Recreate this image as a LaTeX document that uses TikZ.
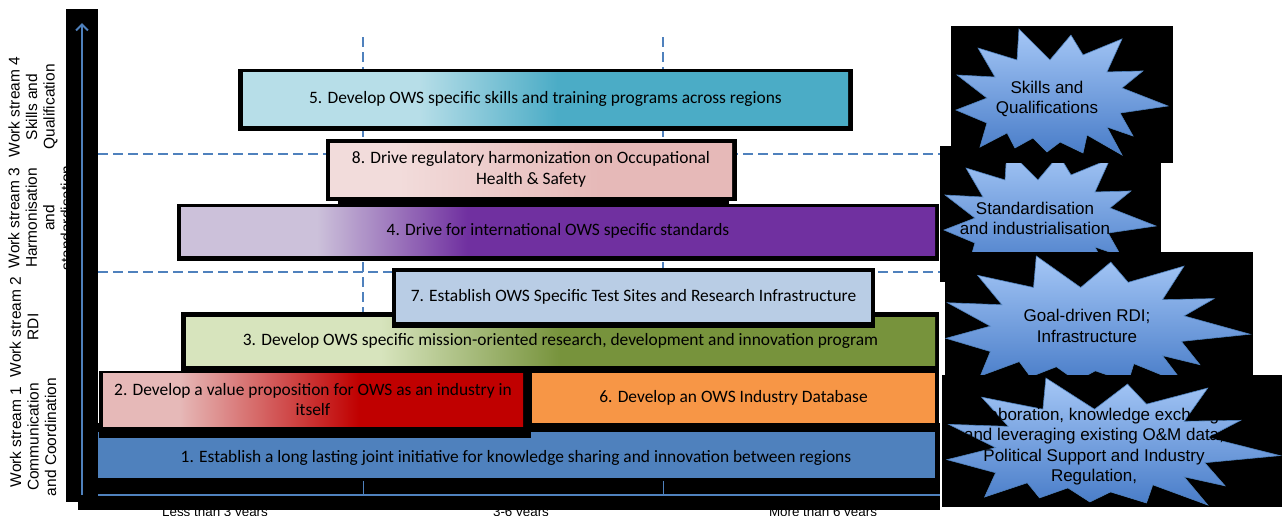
\documentclass[tikz,border=0pt]{standalone}
\usepackage{fontspec}
\setmainfont{Carlito}
\newfontfamily\arialfont{Liberation Sans}
\usetikzlibrary{arrows.meta}

\definecolor{axisblue}{RGB}{79,129,189}
\definecolor{tealA}{RGB}{183,222,232}
\definecolor{tealB}{RGB}{75,172,198}
\definecolor{pinkA}{RGB}{242,220,219}
\definecolor{pinkB}{RGB}{230,185,184}
\definecolor{lilacA}{RGB}{204,193,218}
\definecolor{lilacB}{RGB}{112,48,160}
\definecolor{oliveA}{RGB}{215,228,189}
\definecolor{oliveB}{RGB}{119,147,60}
\definecolor{redB}{RGB}{192,0,0}
\definecolor{testblue}{RGB}{185,205,229}
\definecolor{dataorange}{RGB}{247,150,70}
\definecolor{burstA}{RGB}{165,199,246}
\definecolor{burstB}{RGB}{72,124,200}

\pgfdeclarehorizontalshading{skillsfade}{100bp}{color(0bp)=(tealA); color(39.5bp)=(tealA); color(51bp)=(tealB); color(100bp)=(tealB)}
\pgfdeclarehorizontalshading{safetyfade}{100bp}{color(0bp)=(pinkA); color(33.5bp)=(pinkA); color(58.5bp)=(pinkB); color(100bp)=(pinkB)}
\pgfdeclarehorizontalshading{standardsfade}{100bp}{color(0bp)=(lilacA); color(34bp)=(lilacA); color(44bp)=(lilacB); color(100bp)=(lilacB)}
\pgfdeclarehorizontalshading{researchfade}{100bp}{color(0bp)=(oliveA); color(38bp)=(oliveA); color(50bp)=(oliveB); color(100bp)=(oliveB)}
\pgfdeclarehorizontalshading{valuefade}{100bp}{color(0bp)=(pinkB); color(34bp)=(pinkB); color(55.5bp)=(redB); color(100bp)=(redB)}

\begin{document}
\begin{tikzpicture}[x=1pt,y=-1pt,
    every node/.style={inner sep=0pt},
    taskbox/.style={font=\fontsize{17.4}{20.8}\selectfont, align=center, text=black},
    burst/.style={draw=axisblue, line width=0.6pt, top color=burstA, bottom color=burstB},
    burstlabel/.style={font=\arialfont\fontsize{17}{20.5}\selectfont, align=center},
    wslabel/.style={font=\arialfont\fontsize{15.5}{17.5}\selectfont, align=center, rotate=90},
    yearlabel/.style={font=\arialfont\fontsize{13.4}{16}\selectfont, anchor=base},
    gridline/.style={axisblue, line width=1.4pt, dash pattern=on 10pt off 5pt}]
    \useasboundingbox (0,0) rectangle (1282,515);
    \fill[white] (0,0) rectangle (1282,515);
    \draw[gridline] (363,37) -- (363,480);
    \draw[gridline] (663,37) -- (663,480);
    \draw[gridline] (98,154) -- (940,154);
    \draw[gridline] (98,272) -- (940,272);
    \node[yearlabel] (short) at (215,516) {Less than 3 years};
    \node[yearlabel] (mid) at (521,516) {3-6 years};
    \node[yearlabel] (long) at (823,516) {More than 6 years};
    \fill[black] (66,9) rectangle (98,502);
    \fill[black] (78,478) rectangle (940,510);
    \draw[axisblue, line width=2pt, -{Straight Barb[length=6pt,width=12pt]}] (82,495) -- (82,23);
    \draw[axisblue, line width=2pt] (98,495) -- (940,495);
    \draw[axisblue, line width=1pt] (363,481) -- (363,495);
    \draw[axisblue, line width=1pt] (663,481) -- (663,495);
    \fill[black] (238,69) rectangle (853,131);
    \node[taskbox, shade, shading=skillsfade, minimum width=605, minimum height=53] (task5) at (545.5,98.5) {5. Develop OWS specific skills and training programs across regions};
    \fill[black] (177,204) rectangle (939,261);
    \node[taskbox, shade, shading=standardsfade, minimum width=754, minimum height=48] (task4) at (558,231) {4. Drive for international OWS specific standards};
    \fill[black] (338,140) rectangle (729,207);
    \fill[black] (326,139) rectangle (737,201);
    \node[taskbox, shade, shading=safetyfade, minimum width=402, minimum height=53] (task8) at (531,169.5) {8. Drive regulatory harmonization on Occupational\\Health \& Safety};
    \fill[black] (181,312) rectangle (939,373);
    \node[taskbox, shade, shading=researchfade, minimum width=749, minimum height=48] (task3) at (560.5,341) {3. Develop OWS specific mission-oriented research, development and innovation program};
    \fill[black] (392,268) rectangle (875,328);
    \node[taskbox, fill=testblue, minimum width=475, minimum height=50] (task7) at (633.5,297) {7. Establish OWS Specific Test Sites and Research Infrastructure};
    \fill[black] (98,423) rectangle (940,478);
    \fill[axisblue] (98,432) rectangle (935,478);
    \node[taskbox] (task1) at (516,458) {1. Establish a long lasting joint initiative for knowledge sharing and innovation between regions};
    \fill[black] (523,371) rectangle (939,432);
    \node[taskbox, fill=dataorange, minimum width=403, minimum height=50] (task6) at (733.5,398) {6. Develop an OWS Industry Database};
    \fill[black] (99,371) rectangle (531,438);
    \node[taskbox, shade, shading=valuefade, minimum width=420, minimum height=53] (task2) at (313,399.5) {2. Develop a value proposition for OWS as an industry in\\itself};
    \node[wslabel] (ws1) at (33,437) {Work stream 1\\Communication\\and Coordination};
    \node[wslabel] (ws2) at (24,327) {Work stream 2\\RDI};
    \node[wslabel] (ws3) at (40,218) {Work stream 3\\Harmonisation\\and\\standardisation};
    \node[wslabel] (ws4) at (33,107) {Work stream 4\\Skills and\\Qualification};
    \foreach \bx/\by/\bX/\bY/\sx/\sy/\sw/\sh in {940/146/1161/282/944/149/212/126, 951/26/1173/163/956/29/212/126, 945/252/1253/377/946/256/304/128, 942/375/1282/507/947/378/333/127}{
        \fill[black] (\bx,\by) rectangle (\bX,\bY);
        \draw[burst, shift={(\sx,\sy)}, xscale=\sw, yscale=\sh] plot coordinates {(.297,0) (.443,.246) (.542,.048) (.599,.206) (.783,.079) (.712,.341) (.882,.333) (.783,.468) (1,.611) (.774,.667) (.835,.849) (.712,.778) (.783,1) (.618,.841) (.599,.984) (.491,.897) (.429,.976) (.363,.865) (.278,.944) (.241,.825) (.113,.937) (.146,.746) (0,.643) (.146,.548) (.005,.365) (.184,.381) (.104,.151) (.288,.246)} -- cycle;
    }
    \node[burstlabel] (skills) at (1047,99) {Skills and\\Qualifications};
    \node[burstlabel] (standard) at (1035,218.5) {Standardisation\\and industrialisation};
    \node[burstlabel] (rdi) at (1087,326) {Goal-driven RDI;\\Infrastructure};
    \node[burstlabel] (collab) at (1094,446.5) {Collaboration, knowledge exchange\\and leveraging existing O\&M data,\\Political Support and Industry\\Regulation,};
\end{tikzpicture}
\end{document}
